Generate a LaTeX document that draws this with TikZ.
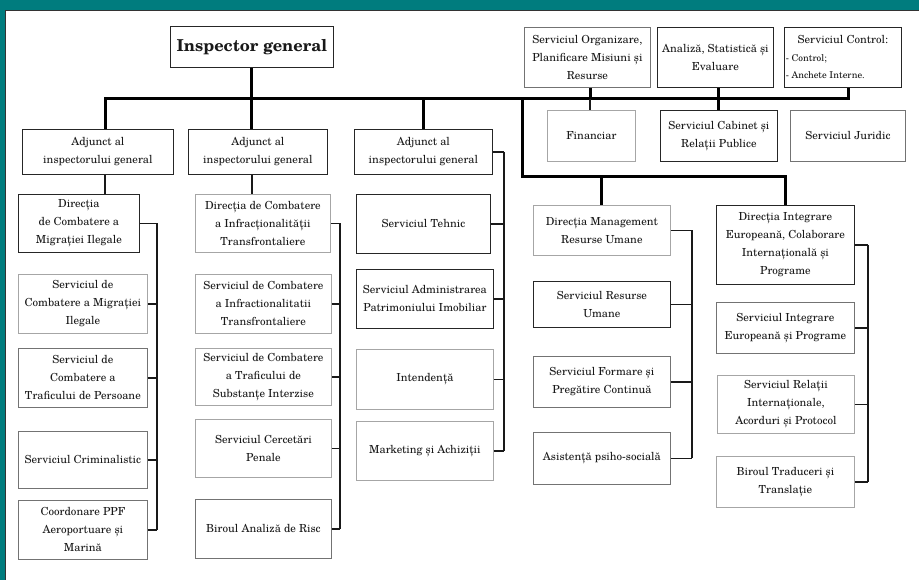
\documentclass[tikz,border=0pt]{standalone}
\usepackage{fontspec}
\setmainfont{TeX Gyre Schola}
\definecolor{tealbg}{RGB}{0,124,126}
\definecolor{inkc}{RGB}{25,25,25}
\tikzset{
  box/.style={draw=black!55, line width=0.8pt, fill=white, anchor=north west, inner sep=1pt,
    align=center, text=inkc, font=\fontsize{11.1}{18}\selectfont},
  boxd/.style={box, draw=black!85},
  boxl/.style={box, draw=black!35},
  bus/.style={line width=3pt, draw=black},
  link/.style={line width=1.5pt, draw=black!90},
}
\begin{document}
\begin{tikzpicture}[x=1pt,y=-1pt]
\useasboundingbox (0,0) rectangle (919,580);
\fill[tealbg] (0,0) rectangle (919,580);
\fill[white] (5,10) rectangle (919,580);
\draw[black!80, line width=0.8pt] (5,580) -- (5,10) -- (919,10);

% top level
\node[boxd, minimum width=163, minimum height=41, font=\fontsize{16.4}{18}\selectfont\bfseries] (ig) at (170,26) {Inspector general};
\node[boxd, minimum width=151, minimum height=45] (a1) at (22,129) {Adjunct al\\inspectorului general};
\node[boxd, minimum width=139, minimum height=45] (a2) at (188,129) {Adjunct al\\inspectorului general};
\node[boxd, minimum width=138, minimum height=45] (a3) at (354,129) {Adjunct al\\inspectorului general};

\node[box, minimum width=126, minimum height=60] (org) at (524,27) {Serviciul Organizare,\\Planificare Misiuni și\\Resurse};
\node[boxd, minimum width=116, minimum height=60] (ana) at (657,27) {Analiză, Statistică și\\Evaluare};
\node[boxd, minimum width=117, minimum height=60] (ctl) at (784,27) {\parbox{114pt}{\centering Serviciul Control:\par\raggedright\fontsize{9.4}{17.5}\selectfont - Control;\par - Anchete Interne.}};
\node[boxl, minimum width=88, minimum height=51] (fin) at (547,110) {Financiar};
\node[boxd, minimum width=117, minimum height=51] (cab) at (660,110) {Serviciul Cabinet și\\Relații Publice};
\node[box, minimum width=115, minimum height=51] (jur) at (790,110) {Serviciul Juridic};

% column 1
\node[boxd, minimum width=121, minimum height=58] (c1a) at (18,194) {Direcția\\de Combatere a\\Migrației Ilegale};
\node[boxl, minimum width=129, minimum height=59] (c1b) at (18,274) {Serviciul de\\Combatere a Migrației\\Ilegale};
\node[box, minimum width=129, minimum height=59] (c1c) at (18,348) {Serviciul de\\Combatere a\\Traficului de Persoane};
\node[box, minimum width=129, minimum height=57] (c1d) at (18,431) {Serviciul Criminalistic};
\node[box, minimum width=129, minimum height=59] (c1e) at (18,500) {Coordonare PPF\\Aeroportuare și\\Marină};

% column 2
\node[boxl, minimum width=135, minimum height=58] (c2a) at (195,194) {Direcția de Combatere\\a Infracționalității\\Transfrontaliere};
\node[boxl, minimum width=136, minimum height=59] (c2b) at (195,274) {Serviciul de Combatere\\a Infractionalitatii\\Transfrontaliere};
\node[boxl, minimum width=136, minimum height=57] (c2c) at (195,348) {Serviciul de Combatere\\a Traficului de\\Substanțe Interzise};
\node[boxl, minimum width=136, minimum height=58] (c2d) at (195,419) {Serviciul Cercetări\\Penale};
\node[box, minimum width=136, minimum height=59] (c2e) at (195,499) {Biroul Analiză de Risc};

% column 3
\node[boxd, minimum width=134, minimum height=59] (c3a) at (356,194) {Serviciul Tehnic};
\node[boxd, minimum width=137, minimum height=59] (c3b) at (356,269) {Serviciul Administrarea\\Patrimoniului Imobiliar};
\node[boxl, minimum width=137, minimum height=60] (c3c) at (356,349) {Intendență};
\node[boxl, minimum width=137, minimum height=59] (c3d) at (356,421) {Marketing și Achiziții};

% column 4
\node[boxl, minimum width=137, minimum height=50] (c4a) at (533,205) {Direcția Management\\Resurse Umane};
\node[boxd, minimum width=137, minimum height=46] (c4b) at (533,281) {Serviciul Resurse\\Umane};
\node[box, minimum width=137, minimum height=51] (c4c) at (533,356) {Serviciul Formare și\\Pregătire Continuă};
\node[box, minimum width=137, minimum height=52] (c4d) at (533,432) {Asistență psiho-socială};

% column 5
\node[boxd, minimum width=138, minimum height=79] (c5a) at (716,205) {Direcția Integrare\\Europeană, Colaborare\\Internațională și\\Programe};
\node[box, minimum width=138, minimum height=51] (c5b) at (716,302) {Serviciul Integrare\\Europeană și Programe};
\node[boxl, minimum width=137, minimum height=58] (c5c) at (717,375) {Serviciul Relații\\Internaționale,\\Acorduri și Protocol};
\node[boxl, minimum width=138, minimum height=51] (c5d) at (716,456) {Biroul Traduceri și\\Translație};

% coordinates
\coordinate (busL) at (105,99);
\coordinate (busR) at (848,99);
\coordinate (k1) at (522,99);
\coordinate (k2) at (522,177);
\coordinate (jo) at (590,99);
\coordinate (ja) at (718,99);
\coordinate (v1) at (157,0);
\coordinate (v2) at (340,0);
\coordinate (v3) at (504,0);
\coordinate (v4) at (692,0);
\coordinate (v5) at (868,0);

% main bus
\draw[bus] (ig.south) -- (ig.south |- a2.north);
\draw[bus] (busL |- a1.north) -- (busL) -- (busR) -- (busR |- ctl.south);
\draw[bus] (a3.north |- busL) -- (a3.north);
\draw[bus] (jo |- org.south) -- (jo);
\draw[link] (jo) -- (jo |- fin.north);
\draw[bus] (ja |- ana.south) -- (ja |- cab.north);
\draw[bus] (k1) -- (k2) -| (c5a.north);
\draw[bus] (c4a.north |- k2) -- (c4a.north);

% adjunct drops
\draw[link] (busL |- a1.south) -- (busL |- c1a.north);
\draw[link] (ig.south |- a2.south) -- (ig.south |- c2a.north);

% column 1 side links
\foreach \n in {c1a,c1b,c1c,c1d,c1e} \draw[link] (\n.east) -- (\n.east -| v1);
\draw[link] (c1a.east -| v1) -- (c1e.east -| v1);
% column 2
\foreach \n in {c2a,c2b,c2c,c2d,c2e} \draw[link] (\n.east) -- (\n.east -| v2);
\draw[link] (c2a.east -| v2) -- (c2e.east -| v2);
% column 3
\foreach \n in {a3,c3a,c3b,c3c,c3d} \draw[link] (\n.east) -- (\n.east -| v3);
\draw[link] (a3.east -| v3) -- (c3d.east -| v3);
% column 4
\foreach \n in {c4a,c4b,c4c,c4d} \draw[link] (\n.east) -- (\n.east -| v4);
\draw[link] (c4a.east -| v4) -- (c4d.east -| v4);
% column 5
\foreach \n in {c5a,c5b,c5c,c5d} \draw[link] (\n.east) -- (\n.east -| v5);
\draw[link] (c5a.east -| v5) -- (c5d.east -| v5);
\end{tikzpicture}
\end{document}
